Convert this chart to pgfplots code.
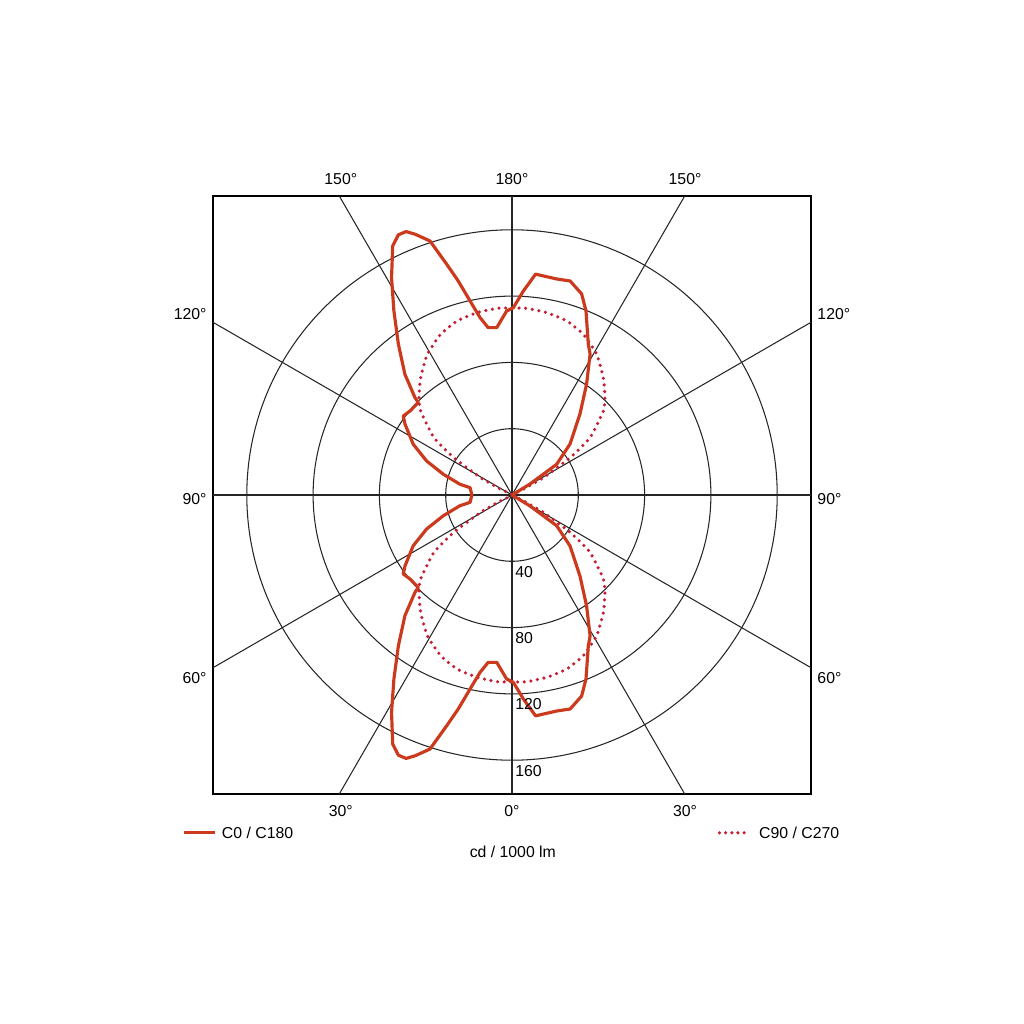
\documentclass[border=0pt]{standalone}
\usepackage{fontspec}
\setmainfont{Liberation Sans}
\usepackage{pgfplots}
\usepackage{pgfplotstable}
\pgfplotsset{compat=1.18}
\definecolor{czero}{RGB}{204,58,30}
\definecolor{cninety}{RGB}{196,30,50}

% phi: angle from nadir, running 90 -> 450 round the whole curve
\pgfplotstableread{
phi I
90 0
121.4 12.7
124.5 32.7
131.3 46.6
140.0 63.8
146.1 80.7
151.0 97.2
153.2 102.1
158.1 119.7
160.9 128.4
164.8 133.8
168.3 133.1
173.9 134.0
176.8 123.3
179.6 113.0
181.7 111.0
185.2 101.4
188.1 102.0
190.2 108.7
192.2 119.8
194.1 133.1
195.8 144.7
197.9 161.1
200.4 167.9
201.9 171.3
203.6 171.3
205.6 166.6
209.0 149.9
212.7 131.9
217.0 113.9
221.6 97.3
224.9 82.9
225.4 79.4
230.5 79.7
234.0 81.1
236.5 77.4
242.8 67.0
248.3 55.4
253.2 43.3
258.4 32.0
260.1 25.7
269.0 24.3
271.0 24.3
279.9 25.7
281.6 32.0
286.8 43.3
291.7 55.4
297.2 67.0
303.5 77.4
306.0 81.1
309.5 79.7
314.6 79.4
315.1 82.9
318.4 97.3
323.0 113.9
327.3 131.9
331.0 149.9
334.4 166.6
336.4 171.3
338.1 171.3
339.6 167.9
342.1 161.1
344.2 144.7
345.9 133.1
347.8 119.8
349.8 108.7
351.9 102.0
354.8 101.4
358.3 111.0
360.4 113.0
363.2 123.3
366.1 134.0
371.7 133.1
375.2 133.8
379.1 128.4
381.9 119.7
386.8 102.1
389.0 97.2
393.9 80.7
400.0 63.8
408.7 46.6
415.5 32.7
418.6 12.7
450 0
}\czerotab

\pgfplotstableread{
phi I
90 0
117 8
118.9 21.6
122.7 41.6
126.3 58.4
132.6 74.9
136.3 81.2
142.1 89.7
149.0 99.1
156.1 106.1
162.5 110.1
169.2 112.0
175.5 113.0
180 112.8
184.5 113.0
190.8 112.0
197.5 110.1
203.9 106.1
211.0 99.1
217.9 89.7
223.7 81.2
227.4 74.9
233.7 58.4
237.3 41.6
241.1 21.6
243 8
270 0
297 8
298.9 21.6
302.7 41.6
306.3 58.4
312.6 74.9
316.3 81.2
322.1 89.7
329.0 99.1
336.1 106.1
342.5 110.1
349.2 112.0
355.5 113.0
360 112.8
364.5 113.0
370.8 112.0
377.5 110.1
383.9 106.1
391.0 99.1
397.9 89.7
403.7 81.2
407.4 74.9
413.7 58.4
417.3 41.6
421.1 21.6
423 8
450 0
}\cninetytab

\begin{document}
\begin{tikzpicture}[font=\fontsize{9}{11}\selectfont,
  gridline/.style={black!85, line width=0.6pt}]
\begin{axis}[
  name=ax,
  width=11.96cm, height=11.96cm,
  scale only axis,
  xmin=-180.4, xmax=180.4,
  ymin=-180.4, ymax=180.4,
  xtick=\empty, ytick=\empty,
  axis line style={black, line width=0.9pt},
  clip=false,
]
% rings
\draw[gridline] (axis cs:0,0) circle[radius=1.326cm];
\draw[gridline] (axis cs:0,0) circle[radius=2.652cm];
\draw[gridline] (axis cs:0,0) circle[radius=3.978cm];
\draw[gridline] (axis cs:0,0) circle[radius=5.304cm];
% spokes every 30 degrees
\draw[gridline] (axis cs:0,-180.4) -- (axis cs:0,180.4);
\draw[gridline] (axis cs:-180.4,0) -- (axis cs:180.4,0);
\draw[gridline] (axis cs:-104.2,-180.4) -- (axis cs:104.2,180.4);
\draw[gridline] (axis cs:104.2,-180.4) -- (axis cs:-104.2,180.4);
\draw[gridline] (axis cs:-180.4,-104.2) -- (axis cs:180.4,104.2);
\draw[gridline] (axis cs:180.4,-104.2) -- (axis cs:-180.4,104.2);

\addplot[cninety, line width=2pt, line cap=round,
  dash pattern=on 0pt off 3.8pt, smooth, tension=0.3]
  table[x expr={\thisrow{I}*sin(\thisrow{phi})},
        y expr={-\thisrow{I}*cos(\thisrow{phi})}] {\cninetytab};
\addplot[czero, line width=1.8pt, line join=round]
  table[x expr={\thisrow{I}*sin(\thisrow{phi})},
        y expr={-\thisrow{I}*cos(\thisrow{phi})}] {\czerotab};

% ring values
\node[anchor=north west, inner sep=0pt, xshift=0.06cm, yshift=-0.09cm] at (axis cs:0,-40) {40};
\node[anchor=north west, inner sep=0pt, xshift=0.06cm, yshift=-0.09cm] at (axis cs:0,-80) {80};
\node[anchor=north west, inner sep=0pt, xshift=0.06cm, yshift=-0.09cm] at (axis cs:0,-120) {120};
\node[anchor=north west, inner sep=0pt, xshift=0.06cm, yshift=-0.09cm] at (axis cs:0,-160) {160};

% angle labels
\node at (axis cs:-103.3,190.7) {150°};
\node at (axis cs:0,190.7) {180°};
\node at (axis cs:104.4,190.7) {150°};
\node at (axis cs:-103.3,-190.7) {30°};
\node at (axis cs:0,-190.7) {0°};
\node at (axis cs:104.4,-190.7) {30°};
\node[anchor=east, inner sep=0pt] at (axis cs:-184.1,109.1) {120°};
\node[anchor=east, inner sep=0pt] at (axis cs:-184.1,-2.6) {90°};
\node[anchor=east, inner sep=0pt] at (axis cs:-184.1,-110.3) {60°};
\node[anchor=west, inner sep=0pt] at (axis cs:184.1,109.1) {120°};
\node[anchor=west, inner sep=0pt] at (axis cs:184.1,-2.6) {90°};
\node[anchor=west, inner sep=0pt] at (axis cs:184.1,-110.3) {60°};

% legend
\draw[czero, line width=1.8pt] (axis cs:-197.9,-203.8) -- (axis cs:-179.0,-203.8);
\node[anchor=west, inner sep=0pt] at (axis cs:-175.2,-203.8) {C0 / C180};
\draw[cninety, line width=2pt, line cap=round, dash pattern=on 0pt off 3.5pt]
  (axis cs:125.2,-203.8) -- (axis cs:140.8,-203.8);
\node[anchor=west, inner sep=0pt] at (axis cs:148.9,-203.8) {C90 / C270};
\node at (axis cs:0.5,-215.3) {cd / 1000 lm};
\end{axis}
\path ([shift={(-4.26cm,-4.6cm)}]ax.south west) rectangle ([shift={(4.26cm,3.92cm)}]ax.north east);
\end{tikzpicture}
\end{document}
